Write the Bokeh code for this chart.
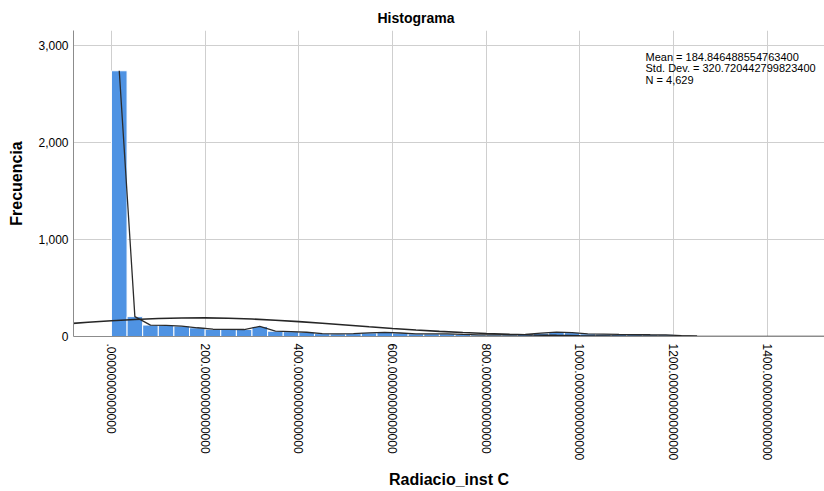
import math
from bokeh.plotting import figure
from bokeh.models import FixedTicker, NumeralTickFormatter, Label, ColumnDataSource
from bokeh.embed import file_html
from bokeh.resources import INLINE

# ---- data ----
BIN_START = 0.0
BIN_WIDTH = 200.0 / 6.0
COUNTS = [2740, 205, 118, 115, 108, 90, 75, 73, 72, 104,
          55, 50, 44, 30, 28, 30, 38, 42, 36, 28,
          28, 28, 22, 17, 17, 17, 22, 35, 46, 40,
          28, 25, 21, 20, 18, 17, 10, 4]

# fitted normal curve
NORMAL_X = [-100, -50, 0, 50, 100, 150, 200, 250, 300, 350, 400, 450, 500, 550,
            600, 650, 700, 750, 800, 850, 900, 950, 1000, 1050, 1100, 1150,
            1200, 1250, 1300, 1350, 1400, 1450, 1500, 1550]
NORMAL_Y = [129.4, 146.8, 162.5, 175.7, 185.3, 190.8, 191.7, 188.0, 179.9, 168.1,
            153.2, 136.4, 118.4, 100.4, 83.0, 67.0, 52.8, 40.6, 30.5, 22.3,
            16.0, 11.1, 7.6, 5.1, 3.3, 2.1, 1.3, 0.8, 0.5, 0.3, 0.15, 0.1, 0.05, 0.0]

X_TICKS = [0, 200, 400, 600, 800, 1000, 1200, 1400]
X_TICK_LABELS = [".0000000000000", "200.0000000000000", "400.0000000000000",
                 "600.0000000000000", "800.0000000000000", "1000.0000000000000",
                 "1200.0000000000000", "1400.0000000000000"]
Y_TICKS = [0, 1000, 2000, 3000]

STATS = ["Mean = 184.846488554763400",
         "Std. Dev. = 320.720442799823400",
         "N = 4,629"]

TITLE = "Histograma"
X_LABEL = "Radiacio_inst C"
Y_LABEL = "Frecuencia"

FONT = "Liberation Sans"

# ---- build sources ----
lefts = [BIN_START + i * BIN_WIDTH for i in range(len(COUNTS))]
rights = [l + BIN_WIDTH for l in lefts]
mids = [l + BIN_WIDTH / 2 for l in lefts]
bars = ColumnDataSource(dict(left=lefts, right=rights, top=COUNTS, bottom=[0] * len(COUNTS)))
poly = ColumnDataSource(dict(x=mids, y=COUNTS))
norm = ColumnDataSource(dict(x=NORMAL_X, y=NORMAL_Y))

p = figure(width=824, height=491, output_backend="svg", toolbar_location=None,
           x_range=(-81, 1522), y_range=(0, 3155))
p.min_border_left = 73
p.min_border_right = 0
p.min_border_top = 30
p.min_border_bottom = 155
p.outline_line_color = None
p.background_fill_color = "white"
p.border_fill_color = "white"

p.title.text = TITLE
p.title.align = "left"
p.title.offset = 304
p.title.text_font = FONT
p.title.text_font_size = "14px"
p.title.text_font_style = "bold"
p.title.text_color = "#000000"

p.quad(left="left", right="right", top="top", bottom="bottom", source=bars,
       fill_color="#4f93e3", line_color="white", line_width=1)
p.line(x="x", y="y", source=poly, line_color="#2b2b2b", line_width=1.3)
p.line(x="x", y="y", source=norm, line_color="#262626", line_width=1.6)

# axes
p.xaxis.ticker = FixedTicker(ticks=X_TICKS)
p.xaxis.major_label_overrides = {t: s for t, s in zip(X_TICKS, X_TICK_LABELS)}
p.xaxis.major_label_orientation = -math.pi / 2
p.yaxis.ticker = FixedTicker(ticks=Y_TICKS)
p.yaxis.formatter = NumeralTickFormatter(format="0,0")

for ax in (p.xaxis, p.yaxis):
    ax.major_tick_line_color = None
    ax.minor_tick_line_color = None
    ax.major_tick_out = 0
    ax.major_tick_in = 0
    ax.minor_tick_out = 0
    ax.minor_tick_in = 0
    ax.axis_line_color = "#8c8c8c"
    ax.major_label_text_font = FONT
    ax.major_label_text_font_size = "12px"
    ax.major_label_text_color = "#000000"
    ax.axis_label_text_font = FONT
    ax.axis_label_text_font_size = "16px"
    ax.axis_label_text_font_style = "bold"
    ax.axis_label_text_color = "#000000"

p.xaxis.axis_label = X_LABEL
p.yaxis.axis_label = Y_LABEL
p.xaxis.major_label_standoff = 7
p.yaxis.major_label_standoff = 5
p.xaxis.axis_label_standoff = 8
p.yaxis.axis_label_standoff = 10

p.xgrid.ticker = FixedTicker(ticks=X_TICKS)
p.ygrid.ticker = FixedTicker(ticks=Y_TICKS)
p.grid.grid_line_color = "#cfcfcf"
p.grid.grid_line_width = 1

# stats text
for txt, yv in zip(STATS, [2879, 2766, 2649]):
    p.add_layout(Label(x=1140, y=yv, text=txt, text_font=FONT, text_font_size="11px",
                       text_baseline="middle", text_align="left", text_color="#000000"))

open("out.html", "w").write(file_html(p, INLINE))
